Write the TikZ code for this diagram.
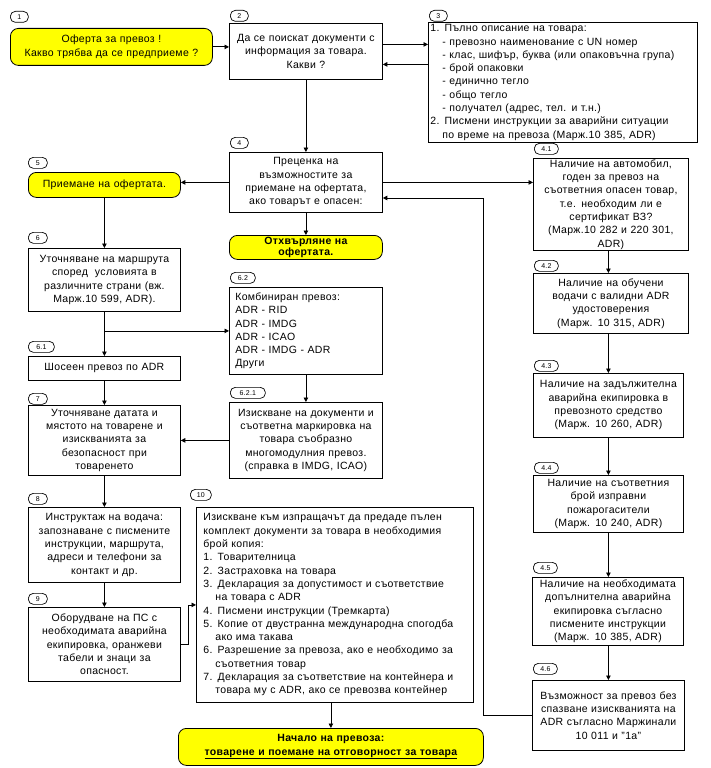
\documentclass[tikz,border=0pt]{standalone}
\usepackage{fontspec}
\setmainfont{Liberation Sans}[LetterSpace=3]
\usetikzlibrary{arrows.meta}
\definecolor{yel}{HTML}{FFFF00}
\tikzset{
 every node/.style={font=\fontsize{10.5}{13.3}\selectfont},
 bx/.style={draw, line width=0.8pt, inner ysep=0pt, anchor=north west, align=center},
 lbx/.style={bx, align=left},
 ybx/.style={bx, fill=yel, rounded corners=8pt},
 sz/.code n args={3}{\pgfmathsetmacro\tw{#1-2*#3}\edef\next{\noexpand\tikzset{minimum width=#1pt,minimum height=#2pt,inner xsep=#3pt,text width=\tw pt}}\next},
 badge/.style={draw, line width=0.7pt, rounded corners=5pt, inner sep=0pt, minimum height=11pt, anchor=north west, font=\fontsize{7}{7}\selectfont},
 arr/.style={line width=0.8pt, -{Triangle[length=4.5pt,width=4.5pt]}},
 ln/.style={line width=0.8pt}
}
\newcommand{\ind}{\hspace*{12pt}}
\begin{document}
\begin{tikzpicture}[x=1pt,y=-1pt]
\useasboundingbox (0,0) rectangle (711,768);
% badges
\node[badge, minimum width=18pt] (n1) at (10,11) {1};
\node[badge, minimum width=18pt] (n2) at (230,10) {2};
\node[badge, minimum width=18pt] (n3) at (429,10) {3};
\node[badge, minimum width=18pt] (n4) at (230,137) {4};
\node[badge, minimum width=24pt] (n41) at (534,143) {4.1};
\node[badge, minimum width=24pt] (n42) at (534,260) {4.2};
\node[badge, minimum width=24pt] (n43) at (534,360) {4.3};
\node[badge, minimum width=24pt] (n44) at (534,462) {4.4};
\node[badge, minimum width=24pt] (n45) at (533,562) {4.5};
\node[badge, minimum width=24pt] (n46) at (533,663) {4.6};
\node[badge, minimum width=19pt] (n5) at (28,157) {5};
\node[badge, minimum width=19pt] (n6) at (28,232) {6};
\node[badge, minimum width=26pt] (n61) at (28,341) {6.1};
\node[badge, minimum width=19pt] (n7) at (28,393) {7};
\node[badge, minimum width=25pt] (n62) at (230,272) {6.2};
\node[badge, minimum width=35pt] (n621) at (230,387) {6.2.1};
\node[badge, minimum width=19pt] (n8) at (28,493) {8};
\node[badge, minimum width=19pt] (n9) at (28,593) {9};
\node[badge, minimum width=21pt] (n10) at (190,489) {10};
% boxes
\node[ybx, sz={202}{37}{3}] (b1) at (10,28) {Оферта за превоз !\\Какво трябва да се предприеме ?};
\node[bx, sz={153}{56}{3}] (b2) at (229,23) {Да се поискат документи с\\информация за товара.\\Какви ?};
\node[lbx, sz={269}{120}{2}] (b3) at (428,22) {1. Пълно описание на товара:\\
\ind- превозно наименование с UN номер\\
\ind- клас, шифър, буква (или опаковъчна група)\\
\ind- брой опаковки\\
\ind- единично тегло\\
\ind- общо тегло\\
\ind- получател (адрес, тел. и т.н.)\\
2. Писмени инструкции за аварийни ситуации\\
\ind по време на превоза (Марж.10 385, ADR)};
\node[bx, sz={153}{60}{3}] (b4) at (229,152) {Преценка на\\възможностите за\\приемане на офертата,\\ако товарът е опасен:};
\node[ybx, sz={153}{24}{3}, font=\fontsize{10.5}{11}\selectfont\bfseries] (rej) at (229,235) {Отхвърляне на\\офертата.};
\node[ybx, sz={152}{25}{3}] (b5) at (28,172) {Приемане на офертата.};
\node[bx, sz={152}{63}{3}] (b6) at (28,248) {Уточняване на маршрута\\според\ \ условията в\\различните страни (вж.\\Марж.10 599, ADR).};
\node[bx, sz={152}{24}{3}] (b61) at (28,356) {Шосеен превоз по ADR};
\node[bx, sz={152}{70}{3}] (b7) at (28,405) {Уточняване датата и\\мястото на товарене и\\изискванията за\\безопасност при\\товаренето};
\node[bx, sz={152}{75}{3}] (b8) at (28,507) {Инструктаж на водача:\\запознаване с писмените\\инструкции, маршрута,\\адреси и телефони за\\контакт и др.};
\node[bx, sz={152}{74}{3}] (b9) at (28,607) {Оборудване на ПС с\\необходимата аварийна\\екипировка, оранжеви\\табели и знаци за\\опасност.};
\node[lbx, sz={153}{87}{6}] (b62) at (229,287) {Комбиниран превоз:\\ADR - RID\\ADR - IMDG\\ADR - ICAO\\ADR - IMDG - ADR\\Други};
\node[bx, sz={153}{76}{3}] (b621) at (229,402) {Изискване на документи и\\съответна маркировка на\\товара съобразно\\многомодулния превоз.\\(справка в IMDG, ICAO)};
\node[lbx, sz={277}{195}{7}] (b10) at (196,507) {Изискване към изпращачът да предаде пълен\\
комплект документи за товара в необходимия\\
брой копия:\\
1. Товарителница\\
2. Застраховка на товара\\
3. Декларация за допустимост и съответствие\\
\ind на товара с ADR\\
4. Писмени инструкции (Тремкарта)\\
5. Копие от двустранна международна спогодба\\
\ind ако има такава\\
6. Разрешение за превоза, ако е необходимо за\\
\ind съответния товар\\
7. Декларация за съответствие на контейнера и\\
\ind товара му с ADR, ако се превозва контейнер};
\node[ybx, sz={305}{37}{3}, font=\fontsize{10.5}{13.3}\selectfont\bfseries] (fin) at (178,728) {Начало на превоза:\\\underline{товарене и поемане на отговорност за товара}};
\node[bx, sz={155}{92}{3}] (b41) at (533,158) {Наличие на автомобил,\\годен за превоз на\\съответния опасен товар,\\т.е. необходим ли е\\сертификат ВЗ?\\(Марж.10 282 и 220 301,\\ADR)};
\node[bx, sz={155}{60}{3}] (b42) at (533,273) {Наличие на обучени\\водачи с валидни ADR\\удостоверения\\(Марж. 10 315, ADR)};
\node[bx, sz={150}{64}{3}] (b43) at (533,373) {Наличие на задължителна\\аварийна екипировка в\\превозното средство\\(Марж. 10 260, ADR)};
\node[bx, sz={150}{57}{3}] (b44) at (533,475) {Наличие на съответния\\брой изправни\\пожарогасители\\(Марж. 10 240, ADR)};
\node[bx, sz={151}{68}{3}] (b45) at (532,577) {Наличие на необходимата\\допълнителна аварийна\\екипировка съгласно\\писмените инструкции\\(Марж. 10 385, ADR)};
\node[bx, sz={152}{70}{3}] (b46) at (532,680) {Възможност за превоз без\\спазване изискванията на\\ADR съгласно Маржинали\\10 011 и "1а"};
% connectors
\draw[arr] (b1.east) -- (b1.east -| b2.west);
\coordinate (p23) at ([yshift=7pt]b2.east);
\draw[arr] (p23) -- (p23 -| b3.west);
\coordinate (p32) at ([yshift=-13pt]b2.east);
\draw[arr] (p32 -| b3.west) -- (p32);
\draw[arr] (b2.south) -- (b4.north);
\draw[arr] (b4.south) -- (rej.north);
\draw[arr] (b4.east) -- (b4.east -| b41.west);
\draw[arr] (b4.west) -- (b4.west -| b5.east);
\draw[arr] (b5.south) -- (b6.north);
\draw[arr] (b6.south) -- (b61.north);
\draw[arr] (b62.west -| b6.south) -- (b62.west);
\draw[arr] (b61.south) -- (b7.north);
\draw[arr] (b62.south) -- (b621.north);
\draw[arr] (b621.west) -- (b621.west -| b7.east);
\draw[arr] (b7.south) -- (b8.north);
\draw[arr] (b8.south) -- (b9.north);
\draw[arr] (b9.east) -- ++(8,0) |- (b10.west);
\draw[arr] (fin.north |- b10.south) -- (fin.north);
\draw[arr] (b43.north |- b41.south) -- (b43.north |- b42.north);
\draw[arr] (b43.north |- b42.south) -- (b43.north);
\draw[arr] (b43.south) -- (b44.north);
\draw[arr] (b46.north |- b44.south) -- (b46.north |- b45.north);
\draw[arr] (b46.north |- b45.south) -- (b46.north);
\coordinate (ret) at (483,198);
\draw[arr] (b46.west) -| (ret) -- (ret -| b4.east);
\end{tikzpicture}
\end{document}
